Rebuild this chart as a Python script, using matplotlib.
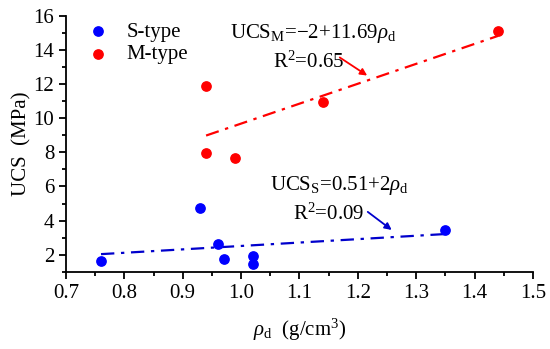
import numpy as np
import matplotlib.pyplot as plt
from matplotlib.ticker import MultipleLocator

plt.rcParams['font.family'] = ['Liberation Serif', 'DejaVu Serif']
plt.rcParams['mathtext.fontset'] = 'custom'
plt.rcParams['mathtext.rm'] = 'Liberation Serif'
plt.rcParams['mathtext.it'] = 'Liberation Serif:italic'

# data
s_x = [0.76, 0.93, 0.96, 0.97, 1.02, 1.02, 1.35]
s_y = [1.6, 4.75, 2.65, 1.75, 1.95, 1.45, 3.45]
m_x = [0.94, 0.94, 0.99, 1.14, 1.44]
m_y = [11.9, 7.95, 7.7, 10.95, 15.15]

# linear fits (intercept, slope) from the chart labels
s_fit = (0.51, 2.0)
m_fit = (-2.0, 11.69)

fig = plt.figure(figsize=(5.5, 3.49), dpi=100)
ax = fig.add_axes([0.12, 0.2215, 0.849, 0.7325])

ax.scatter(s_x, s_y, s=45, color='#0000ff', label='S-type', zorder=3)
ax.scatter(m_x, m_y, s=45, color='#ff0000', label='M-type', zorder=3)

xs = np.array([min(s_x), max(s_x)])
ax.plot(xs, s_fit[0] + s_fit[1] * xs, color='#0000cc', lw=1.6, ls=(0, (6, 3, 1.5, 3)))
xm = np.array([min(m_x), max(m_x)])
ax.plot(xm, m_fit[0] + m_fit[1] * xm, color='#ff0000', lw=1.6, ls=(0, (6, 3, 1.5, 3)))

ax.set_xlim(0.7, 1.5)
ax.set_ylim(1, 16)
ax.xaxis.set_major_locator(MultipleLocator(0.1))
ax.xaxis.set_minor_locator(MultipleLocator(0.05))
ax.yaxis.set_minor_locator(MultipleLocator(1))
ax.xaxis.set_major_formatter(plt.FormatStrFormatter('%.1f'))
ax.set_yticks([2, 4, 6, 8, 10, 12, 14, 16])
ax.tick_params(which='major', direction='out', length=5, width=1.3, labelsize=15)
ax.tick_params(which='minor', direction='out', length=3, width=1.3)
for side in ['top', 'right']:
    ax.spines[side].set_visible(False)
for side in ['left', 'bottom']:
    ax.spines[side].set_linewidth(1.3)

ax.set_xlabel(r'$\rho_{\mathrm{d}}$  (g/cm$^3$)', fontsize=15, labelpad=10)
ax.set_ylabel('UCS  (MPa)', fontsize=15, labelpad=1)

ax.legend(loc='upper left', bbox_to_anchor=(-0.016, 1.05), frameon=False, fontsize=15,
          handletextpad=0.38, labelspacing=0.15, scatterpoints=1)

ax.text(0.981, 14.98, r'UCS$_{\mathrm{M}}$=$-$2+11.69$\rho_{\mathrm{d}}$', fontsize=15, va='center')
ax.text(1.055, 13.3, r'R$^2$=0.65', fontsize=15, va='center')
ax.annotate('', xy=(1.216, 12.51), xytext=(1.169, 13.57),
            arrowprops=dict(arrowstyle='-|>', color='#ff0000', lw=1.3, mutation_scale=10,
                            shrinkA=0, shrinkB=0))

ax.text(1.049, 6.04, r'UCS$_{\mathrm{S}}$=0.51+2$\rho_{\mathrm{d}}$', fontsize=15, va='center')
ax.text(1.089, 4.39, r'R$^2$=0.09', fontsize=15, va='center')
ax.annotate('', xy=(1.258, 3.45), xytext=(1.217, 4.51),
            arrowprops=dict(arrowstyle='-|>', color='#0000cc', lw=1.3, mutation_scale=10,
                            shrinkA=0, shrinkB=0))

fig.savefig('out.png', dpi=100)
